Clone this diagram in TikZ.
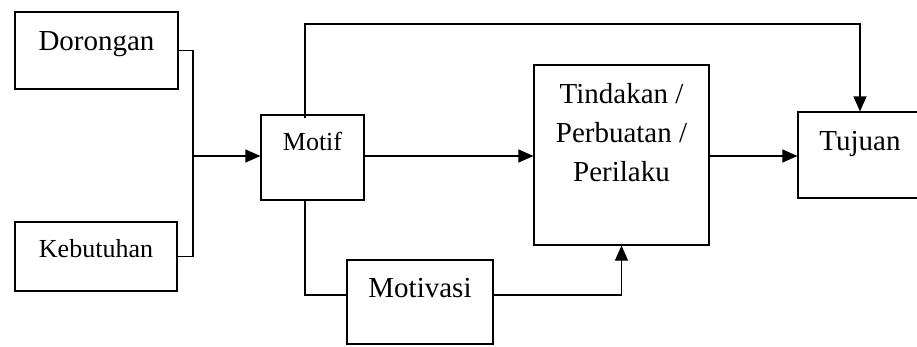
\documentclass[tikz,border=0pt]{standalone}
\usepackage{fontspec}
\setmainfont{Liberation Serif}
\usepackage{tikz}
\usetikzlibrary{arrows.meta}
\tikzstyle{box}=[rectangle,draw=black,line width=1.2pt,inner sep=0pt,align=center,font=\fontsize{29}{39}\selectfont]
\tikzstyle{smallbox}=[box,font=\fontsize{26}{34}\selectfont]
\tikzstyle{every picture}=[x=1pt,y=-1pt,line width=1.2pt,>={Triangle[length=15pt,width=13pt]}]

\begin{document}
\begin{tikzpicture}
        \clip (0,0) rectangle (917,346);
        \node at (96.5,50.5) [box,minimum width=163pt,text height=38pt,text depth=39pt]      (dor)   {Dorongan};
        \node at (96,256.5)  [smallbox,minimum width=162pt,text height=35pt,text depth=34pt] (keb)   {Kebutuhan};
        \node at (312.5,157.5) [smallbox,minimum width=103pt,text height=35pt,text depth=50pt] (motif) {Motif};
        \node at (420,302)   [box,minimum width=146pt,text height=37pt,text depth=47pt]      (motiv) {Motivasi};
        \node at (621.5,155) [box,minimum width=175pt,text height=116pt,text depth=64pt]     (tind)  {Tindakan /\\Perbuatan /\\Perilaku};
        \node at (860,155)   [box,minimum width=124pt,text height=38pt,text depth=48pt]      (tuj)   {Tujuan};

        \coordinate (j)    at (193,156);
        \coordinate (top)  at (305,24);
        \coordinate (bot)  at (305,295);

        \draw (dor.east) -| (j) |- (keb.east);
        \draw [->] (j) -- (j -| motif.west);
        \draw [->] (motif.east |- j) -- (j -| tind.west);
        \draw [->] (tind.east |- j) -- (j -| tuj.west);
        \draw [->] ([yshift=-4pt]motif.north -| top) -- (top) -| (tuj.north);
        \draw (motif.south -| bot) -- (bot) -- (bot -| motiv.west);
        \draw [->] (bot -| motiv.east) -| (tind.south);
      \end{tikzpicture}
\end{document}
